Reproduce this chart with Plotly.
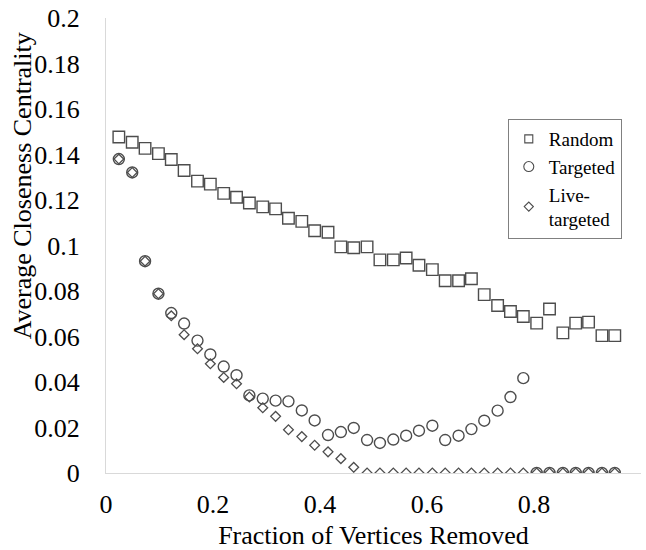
import plotly.graph_objects as go

# Fraction of vertices removed (x) for every run step
fraction_removed = [
    0.024, 0.049, 0.073, 0.098, 0.122, 0.146, 0.171, 0.195, 0.220, 0.244,
    0.268, 0.293, 0.317, 0.341, 0.366, 0.390, 0.415, 0.439, 0.463, 0.488,
    0.512, 0.537, 0.561, 0.585, 0.610, 0.634, 0.659, 0.683, 0.707, 0.732,
    0.756, 0.780, 0.805, 0.829, 0.854, 0.878, 0.902, 0.927, 0.951,
]

# Average closeness centrality under each removal strategy
random_cc = [
    0.1477, 0.1454, 0.1427, 0.1404, 0.1378, 0.1330, 0.1283, 0.1270, 0.1229, 0.1212,
    0.1187, 0.1170, 0.1161, 0.1120, 0.1106, 0.1065, 0.1058, 0.0994, 0.0990, 0.0994,
    0.0937, 0.0937, 0.0945, 0.0913, 0.0894, 0.0845, 0.0845, 0.0854, 0.0784, 0.0736,
    0.0710, 0.0688, 0.0659, 0.0721, 0.0616, 0.0659, 0.0663, 0.0604, 0.0604,
]
targeted_cc = [
    0.1380, 0.1321, 0.0931, 0.0788, 0.0703, 0.0657, 0.0582, 0.0521, 0.0468, 0.0430,
    0.0341, 0.0327, 0.0318, 0.0315, 0.0275, 0.0231, 0.0167, 0.0180, 0.0198, 0.0145,
    0.0132, 0.0147, 0.0164, 0.0186, 0.0208, 0.0145, 0.0164, 0.0193, 0.0230, 0.0274,
    0.0334, 0.0417, 0.0, 0.0, 0.0, 0.0, 0.0, 0.0, 0.0,
]
live_targeted_cc = [
    0.1380, 0.1321, 0.0931, 0.0788, 0.0691, 0.0608, 0.0546, 0.0480, 0.0420, 0.0392,
    0.0334, 0.0287, 0.0249, 0.0190, 0.0160, 0.0122, 0.0093, 0.0063, 0.0025, 0.0,
    0.0, 0.0, 0.0, 0.0, 0.0, 0.0, 0.0, 0.0, 0.0, 0.0,
    0.0, 0.0, 0.0, 0.0, 0.0, 0.0, 0.0, 0.0, 0.0,
]

series_names = ["Random", "Targeted", "Live-<br>targeted"]

x_tickvals = [0, 0.2, 0.4, 0.6, 0.8, 1]
x_ticktext = ["0", "0.2", "0.4", "0.6", "0.8", "1"]
y_tickvals = [0, 0.02, 0.04, 0.06, 0.08, 0.1, 0.12, 0.14, 0.16, 0.18, 0.2]
y_ticktext = ["0", "0.02", "0.04", "0.06", "0.08", "0.1", "0.12", "0.14", "0.16", "0.18", "0.2"]

FONT = "Liberation Serif, Times New Roman, DejaVu Serif, serif"
MARK = "#4d4d4d"
CLEAR = "rgba(0,0,0,0)"

styles = [
    dict(symbol="square-open", size=11.5, lw=1.4, legend_size=8),
    dict(symbol="circle-open", size=11, lw=1.4, legend_size=10),
    dict(symbol="diamond-open", size=7.5, lw=1.3, legend_size=7),
]
values = [random_cc, targeted_cc, live_targeted_cc]

fig = go.Figure()

for name, ys, st in zip(series_names, values, styles):
    fig.add_trace(go.Scatter(
        x=fraction_removed, y=ys, mode="markers", showlegend=False,
        marker=dict(symbol=st["symbol"], size=st["size"], color=MARK,
                    line=dict(width=st["lw"], color=MARK)),
    ))

# Legend entries with compact symbols
for name, st in zip(series_names, styles):
    fig.add_trace(go.Scatter(
        x=[None], y=[None], mode="markers", name=name,
        marker=dict(symbol=st["symbol"], size=st["legend_size"], color=MARK,
                    line=dict(width=1.1, color=MARK)),
    ))

fig.update_layout(
    width=646, height=550,
    template="none",
    margin=dict(l=106, r=5, t=18, b=77),
    font=dict(family=FONT, size=26, color="black"),
    showlegend=True,
    legend=dict(
        x=0.751, y=0.778, xanchor="left", yanchor="top",
        bordercolor="#808080", borderwidth=1, bgcolor="white",
        font=dict(family=FONT, size=19),
        traceorder="normal", tracegroupgap=0,
    ),
    xaxis=dict(
        range=[0, 1], tickvals=x_tickvals, ticktext=x_ticktext,
        showgrid=False, zeroline=False, showline=True,
        linecolor="#d9d9d9", linewidth=1,
        ticks="outside", ticklen=8, tickcolor=CLEAR,
        tickfont=dict(family=FONT, size=26),
        title=dict(text="Fraction of Vertices Removed", standoff=20,
                   font=dict(family=FONT, size=26)),
    ),
    yaxis=dict(
        range=[0, 0.2], tickvals=y_tickvals, ticktext=y_ticktext,
        showgrid=False, zeroline=False, showline=True,
        linecolor="#d9d9d9", linewidth=1,
        ticks="outside", ticklen=20, tickcolor=CLEAR,
        tickfont=dict(family=FONT, size=26),
    ),
    annotations=[dict(
        text="Average Closeness Centrality", textangle=-90,
        xref="paper", yref="paper", x=-0.157, y=0.63,
        xanchor="center", yanchor="middle", showarrow=False,
        font=dict(family=FONT, size=26),
    )],
)

# Redraw once the page fonts are settled so text is measured with the serif face
redraw_js = (
    "var gd = document.getElementById('{plot_id}');"
    "if (document.fonts && document.fonts.ready) {"
    "  document.fonts.ready.then(function () {"
    "    Plotly.newPlot(gd, gd.data, gd.layout);"
    "  });"
    "}"
)

fig.write_html("out.html", post_script=redraw_js)
